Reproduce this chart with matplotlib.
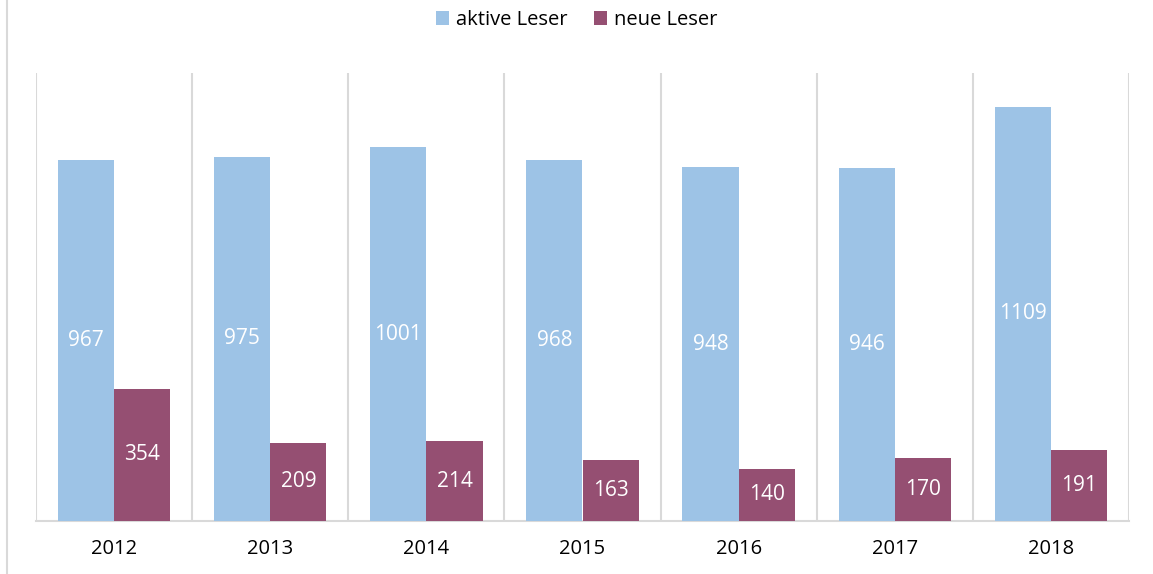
import matplotlib
matplotlib.use("Agg")
import matplotlib.pyplot as plt
import numpy as np
from matplotlib.lines import Line2D

plt.rcParams['font.family'] = ['Open Sans', 'DejaVu Sans']

years = ["2012", "2013", "2014", "2015", "2016", "2017", "2018"]
aktive = [967, 975, 1001, 968, 948, 946, 1109]
neue = [354, 209, 214, 163, 140, 170, 191]
series_names = ["aktive Leser", "neue Leser"]
colors = ["#9DC3E6", "#954F72"]

fig = plt.figure(figsize=(11.53, 5.74), dpi=100)
ax = fig.add_axes([36/1153, 53/574, (1129-36)/1153, (521-73)/574])

x = np.arange(len(years))
w = 0.36
b1 = ax.bar(x - w/2, aktive, w, color=colors[0], label=series_names[0], zorder=3)
b2 = ax.bar(x + w/2, neue, w, color=colors[1], label=series_names[1], zorder=3)

for bars, vals in ((b1, aktive), (b2, neue)):
    for r, v in zip(bars, vals):
        ax.text(r.get_x() + r.get_width()/2, v/2, str(v), ha='center', va='center',
                color='white', fontsize=15, zorder=4)

ax.set_xlim(-0.5, len(years) - 0.5)
ax.set_ylim(0, 1200)
ax.set_yticks([])
ax.set_xticks(x)
ax.set_xticklabels(years, fontsize=14.5)
ax.tick_params(axis='x', length=0, pad=13)

for b in np.arange(-0.5, len(years), 1.0):
    ax.axvline(b, color='#d9d9d9', lw=1.5, zorder=1)

for s in ['top', 'right', 'left']:
    ax.spines[s].set_visible(False)
ax.spines['bottom'].set_color('#d9d9d9')
ax.spines['bottom'].set_linewidth(1.5)

fig.add_artist(Line2D([7/1153, 7/1153], [0, 1], transform=fig.transFigure,
                      color='#d9d9d9', lw=1.5))

fig.legend(handles=[b1, b2], labels=series_names, loc='center', bbox_to_anchor=(0.5, 1 - 20/574),
           ncol=2, frameon=False, fontsize=14.5, handlelength=0.65, handleheight=0.65,
           handletextpad=0.35, columnspacing=1.3)

fig.savefig("out.png", dpi=100)
